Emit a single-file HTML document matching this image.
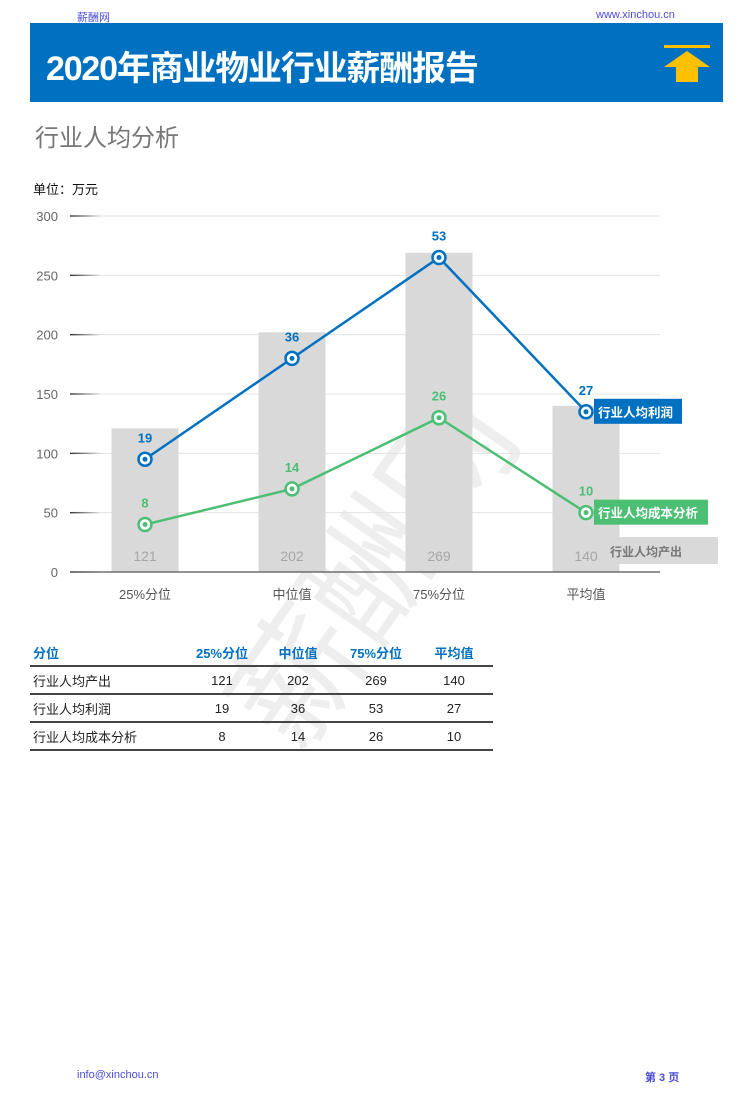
<!DOCTYPE html>
<html><head><meta charset="utf-8">
<style>
body{margin:0;width:747px;height:1095px;background:#fff;position:relative;overflow:hidden;font-family:"Liberation Sans","Noto Sans CJK SC",sans-serif}
.abs{position:absolute}
table{border-collapse:collapse;table-layout:fixed}
</style></head><body>
<div class="abs" style="left:77px;top:9px;font-size:11px;color:#4b4bd6">薪酬网</div>
<div class="abs" style="left:596px;top:9px;font-size:11px;color:#4b4bd6">www.xinchou.cn</div>
<div class="abs" style="left:30px;top:23px;width:693px;height:79px;background:#0070c0"></div>
<div class="abs" style="left:46px;top:41px;font-size:34px;font-weight:bold;color:#fff;letter-spacing:-1.2px">2020年商业物业行业薪酬报告</div>
<svg class="abs" style="left:664px;top:45px" width="48" height="38"><rect x="0" y="0" width="46" height="3" fill="#ffc000"/><polygon points="23,6 46,22 34,22 34,37 12,37 12,22 0,22" fill="#ffc000"/></svg>
<div class="abs" style="left:35px;top:118px;font-size:24px;color:#777">行业人均分析</div>
<div class="abs" style="left:33px;top:179px;font-size:13px;color:#111">单位：万元</div>
<div class="abs" style="left:170px;top:470px;font-size:130px;color:rgba(200,200,200,0.3);transform:rotate(-55deg);transform-origin:center;white-space:nowrap">薪酬网</div>
<svg id="chart" class="abs" style="left:0;top:200px" width="747" height="420"></svg>
<table class="abs" style="left:30px;top:640px;width:463px;font-size:13px;color:#222">
<colgroup><col style="width:155px"><col style="width:74px"><col style="width:78px"><col style="width:78px"><col style="width:78px"></colgroup>
<tr style="color:#0070c0;font-weight:bold;height:26px;border-bottom:2px solid #444"><td style="text-align:left;padding-left:3px">分位</td><td style="text-align:center">25%分位</td><td style="text-align:center">中位值</td><td style="text-align:center">75%分位</td><td style="text-align:center">平均值</td></tr>
<tr style="height:28px;border-bottom:2px solid #444"><td style="padding-left:3px">行业人均产出</td><td align="center">121</td><td align="center">202</td><td align="center">269</td><td align="center">140</td></tr>
<tr style="height:28px;border-bottom:2px solid #444"><td style="padding-left:3px">行业人均利润</td><td align="center">19</td><td align="center">36</td><td align="center">53</td><td align="center">27</td></tr>
<tr style="height:28px;border-bottom:2px solid #444"><td style="padding-left:3px">行业人均成本分析</td><td align="center">8</td><td align="center">14</td><td align="center">26</td><td align="center">10</td></tr>
</table>
<div class="abs" style="left:77px;top:1069px;font-size:11px;color:#4b4bd6">info@xinchou.cn</div>
<div class="abs" style="left:645px;top:1069px;font-size:11px;color:#4b4bd6;font-weight:bold">第 3 页</div>
<script>
const categories=["25%分位","中位值","75%分位","平均值"];
const outputVals=[121,202,269,140];
const profitVals=[19,36,53,27];
const costVals=[8,14,26,10];
const yTicks=[0,50,100,150,200,250,300];
const lineScale=5;
const svg=document.getElementById('chart');
const NS='http://www.w3.org/2000/svg';
function y(v){return 372-v*356/300;}
function x(i){return 145+i*147;}
function mk(t,a,p){const e=document.createElementNS(NS,t);for(const k in a)e.setAttribute(k,a[k]);(p||svg).appendChild(e);return e;}
const defs=mk('defs',{});
const g=mk('linearGradient',{id:'tg',x1:0,x2:1,y1:0,y2:0},defs);
mk('stop',{offset:'0','stop-color':'#333'},g);mk('stop',{offset:'1','stop-color':'#e0e0e0'},g);
yTicks.forEach(t=>{
 const l=mk('line',{x1:100,x2:660,y1:y(t),y2:y(t),stroke:'#e3e3e3','stroke-width':1});
 
 const tk=mk('rect',{x:70,y:y(t)-0.7,width:30,height:1.4,fill:'url(#tg)'});
 
 const tx=mk('text',{x:58,y:y(t)+5,'text-anchor':'end','font-size':13,fill:'#666'});tx.textContent=t;
 
});
outputVals.forEach((v,i)=>{
 const b=mk('rect',{x:x(i)-33.5,y:y(v),width:67,height:y(0)-y(v),fill:'#d9d9d9'});
 
 const t=mk('text',{x:x(i),y:y(0)-11,'text-anchor':'middle','font-size':14,fill:'#a6a6a6'});t.textContent=v;
 
 const c=mk('text',{x:x(i),y:y(0)+27,'text-anchor':'middle','font-size':13,fill:'#555'});c.textContent=categories[i];
 
});
const ax=mk('line',{x1:70,x2:660,y1:y(0),y2:y(0),stroke:'#555','stroke-width':1.2});

const lo=mk('rect',{x:598,y:y(0)-35,width:120,height:27,fill:'#d9d9d9'});

const lot=mk('text',{x:610,y:y(0)-16,'font-size':12,'font-weight':'bold',fill:'#777'});lot.textContent='行业人均产出';

function series(vals,color,name,label,lw){
 const pts=vals.map((v,i)=>x(i)+','+y(v*lineScale)).join(' ');
 const pl=mk('polyline',{points:pts,fill:'none',stroke:color,'stroke-width':2.5});
 
 vals.forEach((v,i)=>{
  const c=mk('circle',{cx:x(i),cy:y(v*lineScale),r:6.5,fill:'#fff',stroke:color,'stroke-width':2.5});
  
  const d=mk('circle',{cx:x(i),cy:y(v*lineScale),r:2.5,fill:color});
  
  const t=mk('text',{x:x(i),y:y(v*lineScale)-17,'text-anchor':'middle','font-size':13,'font-weight':'bold',fill:color});t.textContent=v;
  
 });
 const last=vals.length-1,ly=y(vals[last]*lineScale);
 const r=mk('rect',{x:594,y:ly-13,width:lw,height:25,fill:color});
 
 const t=mk('text',{x:598,y:ly+5,'font-size':12.5,'font-weight':'bold',fill:'#fff'});t.textContent=label;
 
}
series(profitVals,'#0070c0','profit','行业人均利润',88);
series(costVals,'#4cbf74','cost','行业人均成本分析',114);
</script>
</body></html>
